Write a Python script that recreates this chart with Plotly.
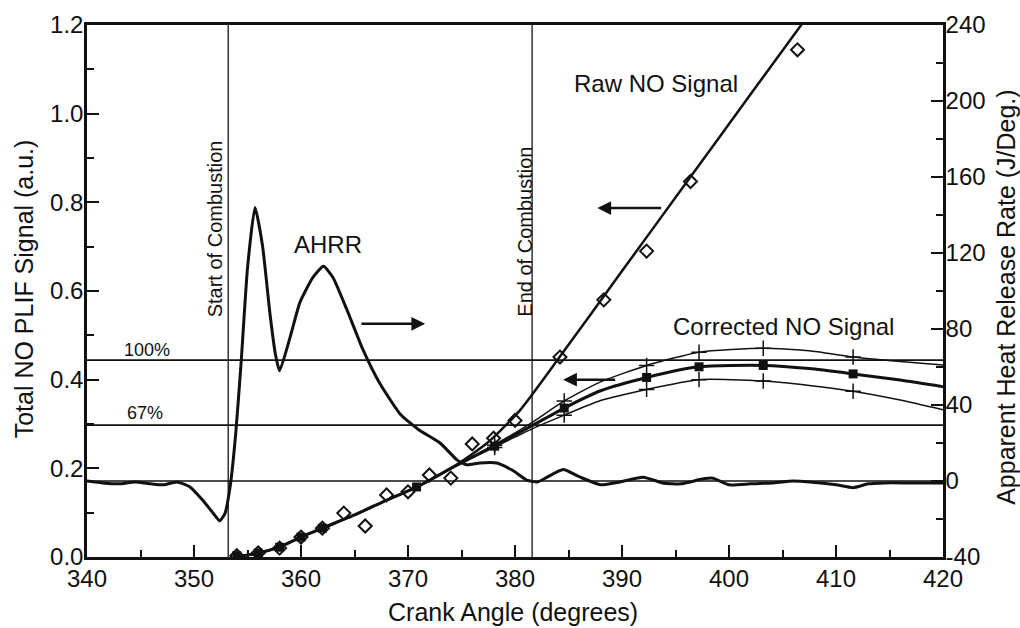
import plotly.graph_objects as go

# ---------------- data ----------------
# AHRR (right axis, J/deg)
ahrr_x = [340, 341.5, 343, 344.5, 346, 347.2, 348.4, 349.6, 350.8, 351.8,
          352.4, 352.9, 353.4, 353.9, 354.4, 355.0, 355.7, 356.4, 357.1, 357.6,
          358.0, 359.0, 359.9, 361.1, 362.1, 363.0, 364.3, 365.8, 367.4, 369.3,
          371.0, 373.0, 374.6, 375.5, 376.7, 378.3, 379.8, 381.1, 382.1, 383.0,
          384.5, 386.1, 388.0, 389.8, 392.0, 393.8, 395.5, 397.5, 398.5, 400.0,
          402.0, 404.0, 406.0, 407.5, 410.0, 411.6, 413.0, 414.5, 417.0, 420.0]
ahrr_y = [0, -1, -1.5, -0.5, -1.5, -2, -0.5, -3, -10, -17,
          -21, -17, -2, 25, 62, 112, 144, 124, 88, 67,
          58, 76, 94, 107, 113, 107, 90, 69, 51, 35,
          27, 20, 11, 8.5, 9.5, 9.5, 5.5, 0.5, -0.5, 2,
          6, 2, -2, -0.5, 2, -1, -1.5, 1, 1.5, -2,
          -1.5, -1, 0, -0.5, -2, -3.5, -1.5, -1, -1, -1]

# Raw NO signal: fitted line and measured points (left axis)
raw_line_x = [353.8, 356, 358, 360, 362, 365, 368, 371, 374.2, 377.4,
              380.5, 384.2, 390, 396, 402, 407.2]
raw_line_y = [0, 0.009, 0.023, 0.045, 0.065, 0.095, 0.128, 0.16, 0.203, 0.257,
              0.332, 0.452, 0.645, 0.844, 1.043, 1.215]
raw_pts_x = [354, 356, 358, 360, 362, 364, 366, 368, 370, 372,
             374, 376, 378, 380, 384.2, 388.3, 392.3, 396.4, 406.4]
raw_pts_y = [0.003, 0.009, 0.02, 0.045, 0.065, 0.099, 0.07, 0.14, 0.147, 0.185,
             0.178, 0.255, 0.268, 0.308, 0.451, 0.58, 0.69, 0.847, 1.144]

# Corrected NO signal (middle = best estimate, hi / lo = bounds)
corr_x = [353.8, 356, 358, 360, 362, 365, 368, 371, 374, 378,
          381.5, 384.6, 388, 392.3, 397.2, 403.2, 407.5, 411.6, 416, 420]
corr_mid = [0, 0.009, 0.023, 0.045, 0.065, 0.095, 0.128, 0.16, 0.2, 0.25,
            0.295, 0.336, 0.375, 0.405, 0.429, 0.432, 0.425, 0.413, 0.399, 0.384]
band_x = [374, 378, 381.5, 384.6, 388, 392.3, 397.2, 403.2, 407.5, 411.6, 416, 420]
corr_hi = [0.2, 0.252, 0.302, 0.352, 0.395, 0.432, 0.462, 0.471, 0.465, 0.451, 0.441, 0.433]
corr_lo = [0.2, 0.247, 0.288, 0.32, 0.353, 0.378, 0.4, 0.397, 0.387, 0.374, 0.354, 0.332]
mid_mk_x = [354, 356, 358, 360, 362, 370.8, 378.1, 384.6, 392.3, 397.2, 403.2, 411.6]
mid_mk_y = [0.003, 0.009, 0.022, 0.045, 0.065, 0.158, 0.25, 0.336, 0.405, 0.429, 0.432, 0.413]
band_mk_x = [378.1, 384.6, 392.3, 397.2, 403.2, 411.6]
hi_mk_y = [0.252, 0.352, 0.432, 0.462, 0.471, 0.451]
lo_mk_y = [0.247, 0.32, 0.378, 0.4, 0.397, 0.374]

# axis ticks
x_ticks = [340, 350, 360, 370, 380, 390, 400, 410, 420]
y_ticks = [0.0, 0.2, 0.4, 0.6, 0.8, 1.0, 1.2]
y2_ticks = [-40, 0, 40, 80, 120, 160, 200, 240]
y2_labels = ["-40", "0", "40", "80", "120", "160", "200", "240"]

# reference levels
level_100 = 0.444
level_67 = 0.2975
start_comb = 353.2
end_comb = 381.6

INK = "#111111"
FONT = "Liberation Sans, Arial, sans-serif"

fig = go.Figure()

# Corrected NO bounds
for ys in (corr_hi, corr_lo):
    fig.add_trace(go.Scatter(x=band_x, y=ys, mode="lines",
                             line=dict(color=INK, width=1.5, shape="spline", smoothing=0.6),
                             showlegend=False, hoverinfo="skip"))
for ys in (hi_mk_y, lo_mk_y):
    fig.add_trace(go.Scatter(x=band_mk_x, y=ys, mode="markers",
                             marker=dict(symbol="cross-thin-open", size=11, color=INK,
                                         line=dict(color=INK, width=1.5)),
                             showlegend=False))
fig.add_trace(go.Scatter(x=corr_x, y=corr_mid, mode="lines",
                         line=dict(color=INK, width=3, shape="spline", smoothing=0.6), showlegend=False))
fig.add_trace(go.Scatter(x=mid_mk_x, y=mid_mk_y, mode="markers",
                         marker=dict(symbol="square", size=9, color=INK), showlegend=False))

# Raw NO
fig.add_trace(go.Scatter(x=raw_line_x, y=raw_line_y, mode="lines",
                         line=dict(color=INK, width=2.5, shape="spline", smoothing=0.6), showlegend=False))
fig.add_trace(go.Scatter(x=raw_pts_x, y=raw_pts_y, mode="markers",
                         marker=dict(symbol="diamond-open", size=10, color=INK, line=dict(color=INK, width=2)),
                         showlegend=False))

# AHRR on right axis
fig.add_trace(go.Scatter(x=ahrr_x, y=ahrr_y, yaxis="y2", mode="lines",
                         line=dict(color=INK, width=3, shape="spline", smoothing=0.5), showlegend=False))

shapes = [
    dict(type="line", xref="x", yref="y", x0=340, x1=420, y0=level_100, y1=level_100,
         line=dict(color=INK, width=1.6), layer="below"),
    dict(type="line", xref="x", yref="y", x0=340, x1=420, y0=level_67, y1=level_67,
         line=dict(color=INK, width=1.6), layer="below"),
    dict(type="line", xref="x", yref="y2", x0=340, x1=420, y0=0, y1=0,
         line=dict(color=INK, width=1.4), layer="below"),
    dict(type="line", xref="x", yref="paper", x0=start_comb, x1=start_comb, y0=0, y1=1,
         line=dict(color="#333", width=1.5), layer="below"),
    dict(type="line", xref="x", yref="paper", x0=end_comb, x1=end_comb, y0=0, y1=1,
         line=dict(color="#333", width=1.5), layer="below"),
]

def txt(x, y, s, size, angle=0, xref="x", yref="y"):
    return dict(x=x, y=y, xref=xref, yref=yref, text=s, showarrow=False, textangle=angle,
                font=dict(family=FONT, size=size, color=INK), xanchor="center", yanchor="middle")

def arrow(x_tail, x_head, y):
    return dict(x=x_head, y=y, ax=x_tail, ay=y, xref="x", yref="y", axref="x", ayref="y",
                text="", showarrow=True, arrowhead=2, arrowsize=1.1, arrowwidth=2.5, arrowcolor=INK)

annotations = [
    txt(345.6, 0.467, "100%", 18),
    txt(345.4, 0.325, "67%", 18),
    txt(352.0, 0.74, "Start of Combustion", 20, -90),
    txt(380.9, 0.733, "End of Combustion", 20, -90),
    txt(362.5, 0.706, "AHRR", 24),
    txt(393.2, 1.069, "Raw NO Signal", 24),
    txt(405.1, 0.52, "Corrected NO Signal", 24),
    arrow(393.8, 387.7, 0.787),
    arrow(365.5, 371.6, 0.526),
    arrow(389.5, 384.5, 0.40),
    txt(-0.0736, 0.505, "Total NO PLIF Signal (a.u.)", 25, -90, "paper", "paper"),
    txt(1.0736, 0.489, "Apparent Heat Release Rate (J/Deg.)", 25, -90, "paper", "paper"),
    txt(0.4977, -0.1034, "Crank Angle (degrees)", 25, 0, "paper", "paper"),
]

axis_common = dict(showgrid=False, zeroline=False, showline=True, linecolor=INK, linewidth=2.5,
                   ticks="inside", ticklen=12, tickwidth=2, tickcolor=INK,
                   tickfont=dict(family=FONT, size=24, color=INK))

fig.update_layout(
    width=1020, height=628,
    margin=dict(l=87, r=77, t=25, b=71),
    paper_bgcolor="white", plot_bgcolor="white",
    font=dict(family=FONT, color=INK),
    xaxis=dict(range=[340, 420], tickvals=x_ticks, mirror=True,
               minor=dict(dtick=5, ticks="inside", ticklen=7, tickwidth=2, tickcolor=INK),
               ticklabelstandoff=-2, **axis_common),
    yaxis=dict(range=[0, 1.2], tickvals=y_ticks, tickformat=".1f",
               minor=dict(dtick=0.1, ticks="inside", ticklen=7, tickwidth=2, tickcolor=INK),
               ticklabelstandoff=-4, **axis_common),
    yaxis2=dict(range=[-40, 240], tickvals=y2_ticks, ticktext=y2_labels, overlaying="y", side="right",
                minor=dict(dtick=20, ticks="inside", ticklen=7, tickwidth=2, tickcolor=INK),
                ticklabelstandoff=-5, **axis_common),
    shapes=shapes,
    annotations=annotations,
    showlegend=False,
)

fig.write_html("out.html")
